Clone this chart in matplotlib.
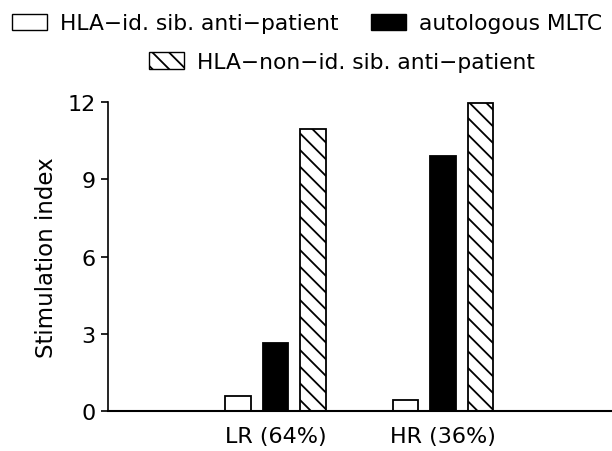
import numpy as np
import matplotlib.pyplot as plt
from matplotlib.patches import Patch

plt.rcParams['font.family'] = ['DejaVu Sans']
plt.rcParams['hatch.linewidth'] = 1.3

groups = ['LR (64%)', 'HR (36%)']
series = ['HLA\u2212id. sib. anti\u2212patient',
          'autologous MLTC',
          'HLA\u2212non\u2212id. sib. anti\u2212patient']
hla_id = [0.57, 0.44]
autologous = [2.65, 9.9]
hla_non_id = [10.95, 11.95]

x = np.arange(1, len(groups) + 1)
w = 0.152
step = 0.224
hatch = '\\\\'

fig = plt.figure(figsize=(6.12, 4.52), dpi=100)
ax = fig.add_axes([0.1765, 0.0885, 0.84, 0.6835])

ax.bar(x - step, hla_id, w, facecolor='white', edgecolor='black', lw=1.3)
ax.bar(x, autologous, w, facecolor='black', edgecolor='black', lw=1.3)
ax.bar(x + step, hla_non_id, w, facecolor='white', edgecolor='black',
       lw=1.3, hatch=hatch)

ax.set_xlim(0, 3.07)
ax.set_ylim(0, 12)
ax.set_yticks([0, 3, 6, 9, 12])
ax.set_xticks(x)
ax.set_xticklabels(groups)
ax.tick_params(axis='x', length=0, pad=11, labelsize=16)
ax.tick_params(axis='y', length=5, width=1.2, pad=4, labelsize=16)
ax.set_ylabel('Stimulation index', fontsize=16.5, labelpad=7)
for s in ['top', 'right']:
    ax.spines[s].set_visible(False)
ax.spines['left'].set_linewidth(1.2)
ax.spines['bottom'].set_linewidth(1.5)

# legend: two entries on the first row, the hatched one centred below
h1 = Patch(facecolor='white', edgecolor='black', lw=1.0)
h2 = Patch(facecolor='black', edgecolor='black', lw=1.0)
h3 = Patch(facecolor='white', edgecolor='black', lw=1.0, hatch=hatch)
leg_kw = dict(frameon=False, fontsize=15.7, handlelength=1.6,
              handleheight=0.78, handletextpad=0.6, borderpad=0,
              borderaxespad=0)
fig.legend([h1, h2], series[:2], loc='center left', ncol=2,
           columnspacing=1.5, bbox_to_anchor=(0.02, 0.946), **leg_kw)
fig.legend([h3], series[2:], loc='center left',
           bbox_to_anchor=(0.243, 0.86), **leg_kw)

fig.savefig('out.png', dpi=100)
